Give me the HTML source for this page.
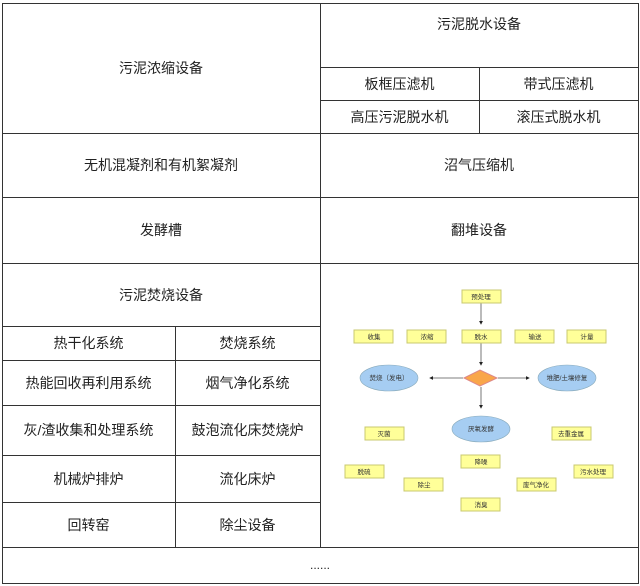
<!DOCTYPE html>
<html><head><meta charset="utf-8"><style>
body{margin:0;width:640px;height:586px;background:#fff;position:relative;overflow:hidden;font-family:"Liberation Sans","Noto Sans CJK SC",sans-serif;}
.c{position:absolute;box-sizing:border-box;display:flex;align-items:center;justify-content:center;font-size:14px;color:#222;}
.h{position:absolute;background:#333;height:1px}
.v{position:absolute;background:#333;width:1px}
</style></head><body>
<!-- outer -->
<div style="position:absolute;left:2px;top:3px;width:635px;height:579px;border:1px solid #333;"></div>
<div class="v" style="left:320px;top:3px;height:545px"></div>
<div class="h" style="left:2px;top:133px;width:636px"></div>
<div class="h" style="left:2px;top:197px;width:636px"></div>
<div class="h" style="left:2px;top:263px;width:636px"></div>
<div class="h" style="left:2px;top:547px;width:636px"></div>
<div class="h" style="left:320px;top:67px;width:318px"></div>
<div class="h" style="left:320px;top:100px;width:318px"></div>
<div class="v" style="left:479px;top:67px;height:66px"></div>
<div class="h" style="left:2px;top:326px;width:318px"></div>
<div class="h" style="left:2px;top:360px;width:318px"></div>
<div class="h" style="left:2px;top:405px;width:318px"></div>
<div class="h" style="left:2px;top:455px;width:318px"></div>
<div class="h" style="left:2px;top:502px;width:318px"></div>
<div class="v" style="left:175px;top:326px;height:221px"></div>

<div class="c" style="left:2px;top:3px;width:318px;height:130px">污泥浓缩设备</div>
<div class="c" style="left:320px;top:3px;width:318px;height:42px">污泥脱水设备</div>
<div class="c" style="left:320px;top:67px;width:159px;height:33px">板框压滤机</div>
<div class="c" style="left:479px;top:67px;width:159px;height:33px">带式压滤机</div>
<div class="c" style="left:320px;top:100px;width:159px;height:33px">高压污泥脱水机</div>
<div class="c" style="left:479px;top:100px;width:159px;height:33px">滚压式脱水机</div>
<div class="c" style="left:2px;top:133px;width:318px;height:64px">无机混凝剂和有机絮凝剂</div>
<div class="c" style="left:320px;top:133px;width:318px;height:64px">沼气压缩机</div>
<div class="c" style="left:2px;top:197px;width:318px;height:66px">发酵槽</div>
<div class="c" style="left:320px;top:197px;width:318px;height:66px">翻堆设备</div>
<div class="c" style="left:2px;top:263px;width:318px;height:63px">污泥焚烧设备</div>
<div class="c" style="left:2px;top:326px;width:173px;height:34px">热干化系统</div>
<div class="c" style="left:175px;top:326px;width:145px;height:34px">焚烧系统</div>
<div class="c" style="left:2px;top:360px;width:173px;height:45px">热能回收再利用系统</div>
<div class="c" style="left:175px;top:360px;width:145px;height:45px">烟气净化系统</div>
<div class="c" style="left:2px;top:405px;width:173px;height:50px">灰/渣收集和处理系统</div>
<div class="c" style="left:175px;top:405px;width:145px;height:50px">鼓泡流化床焚烧炉</div>
<div class="c" style="left:2px;top:455px;width:173px;height:47px">机械炉排炉</div>
<div class="c" style="left:175px;top:455px;width:145px;height:47px">流化床炉</div>
<div class="c" style="left:2px;top:502px;width:173px;height:45px">回转窑</div>
<div class="c" style="left:175px;top:502px;width:145px;height:45px">除尘设备</div>
<div class="c" style="left:2px;top:547px;width:636px;height:36px;font-size:12px">......</div>

<svg style="position:absolute;left:0;top:0" width="640" height="586" font-family="Liberation Sans,Noto Sans CJK SC,sans-serif" font-size="6.5">
<defs><marker id="a" markerWidth="5" markerHeight="5" refX="4" refY="2.5" orient="auto"><path d="M0,0L5,2.5L0,5z" fill="#222"/></marker></defs>
<g stroke="#555" stroke-width="0.8" marker-end="url(#a)">
<line x1="481" y1="303" x2="481" y2="324"/>
<line x1="481" y1="343" x2="481" y2="365"/>
<line x1="463" y1="378" x2="430" y2="378"/>
<line x1="498" y1="378" x2="529" y2="378"/>
<line x1="481" y1="387" x2="481" y2="408"/>
</g>
<g fill="#ffff99" stroke="#c8c870" stroke-width="1">
<rect x="462" y="290" width="39" height="13"/>
<rect x="354" y="330" width="39" height="13"/><rect x="407" y="330" width="39" height="13"/><rect x="462" y="330" width="39" height="13"/><rect x="515" y="330" width="39" height="13"/><rect x="567" y="330" width="39" height="13"/>
<rect x="365" y="427" width="39" height="13"/><rect x="552" y="427" width="39" height="13"/>
<rect x="461" y="455" width="39" height="13"/><rect x="345" y="465" width="39" height="13"/><rect x="404" y="478" width="39" height="13"/><rect x="517" y="478" width="39" height="13"/><rect x="574" y="465" width="39" height="13"/><rect x="461" y="498" width="39" height="13"/>
</g>
<g fill="#a6cdf2" stroke="#8ab" stroke-width="0.6">
<ellipse cx="389" cy="378" rx="29" ry="13"/><ellipse cx="567" cy="378" rx="29" ry="13"/><ellipse cx="481" cy="429" rx="29" ry="13"/>
</g>
<polygon points="464,378 480,370 497,378 480,386" fill="#f9a64a" stroke="#d88"/>
<g fill="#333" text-anchor="middle">
<text x="481" y="299">预处理</text>
<text x="374" y="339">收集</text><text x="427" y="339">浓缩</text><text x="481" y="339">脱水</text><text x="535" y="339">输送</text><text x="587" y="339">计量</text>
<text x="389" y="380">焚烧（发电）</text><text x="567" y="380">堆肥/土壤修复</text><text x="481" y="431">厌氧发酵</text>
<text x="384" y="436">灭菌</text><text x="571" y="436">去重金属</text>
<text x="481" y="464">降噪</text><text x="364" y="474">脱硫</text><text x="424" y="487">除尘</text><text x="536" y="487">废气净化</text><text x="593" y="474">污水处理</text><text x="481" y="507">消臭</text>
</g>
</svg>
</body></html>
